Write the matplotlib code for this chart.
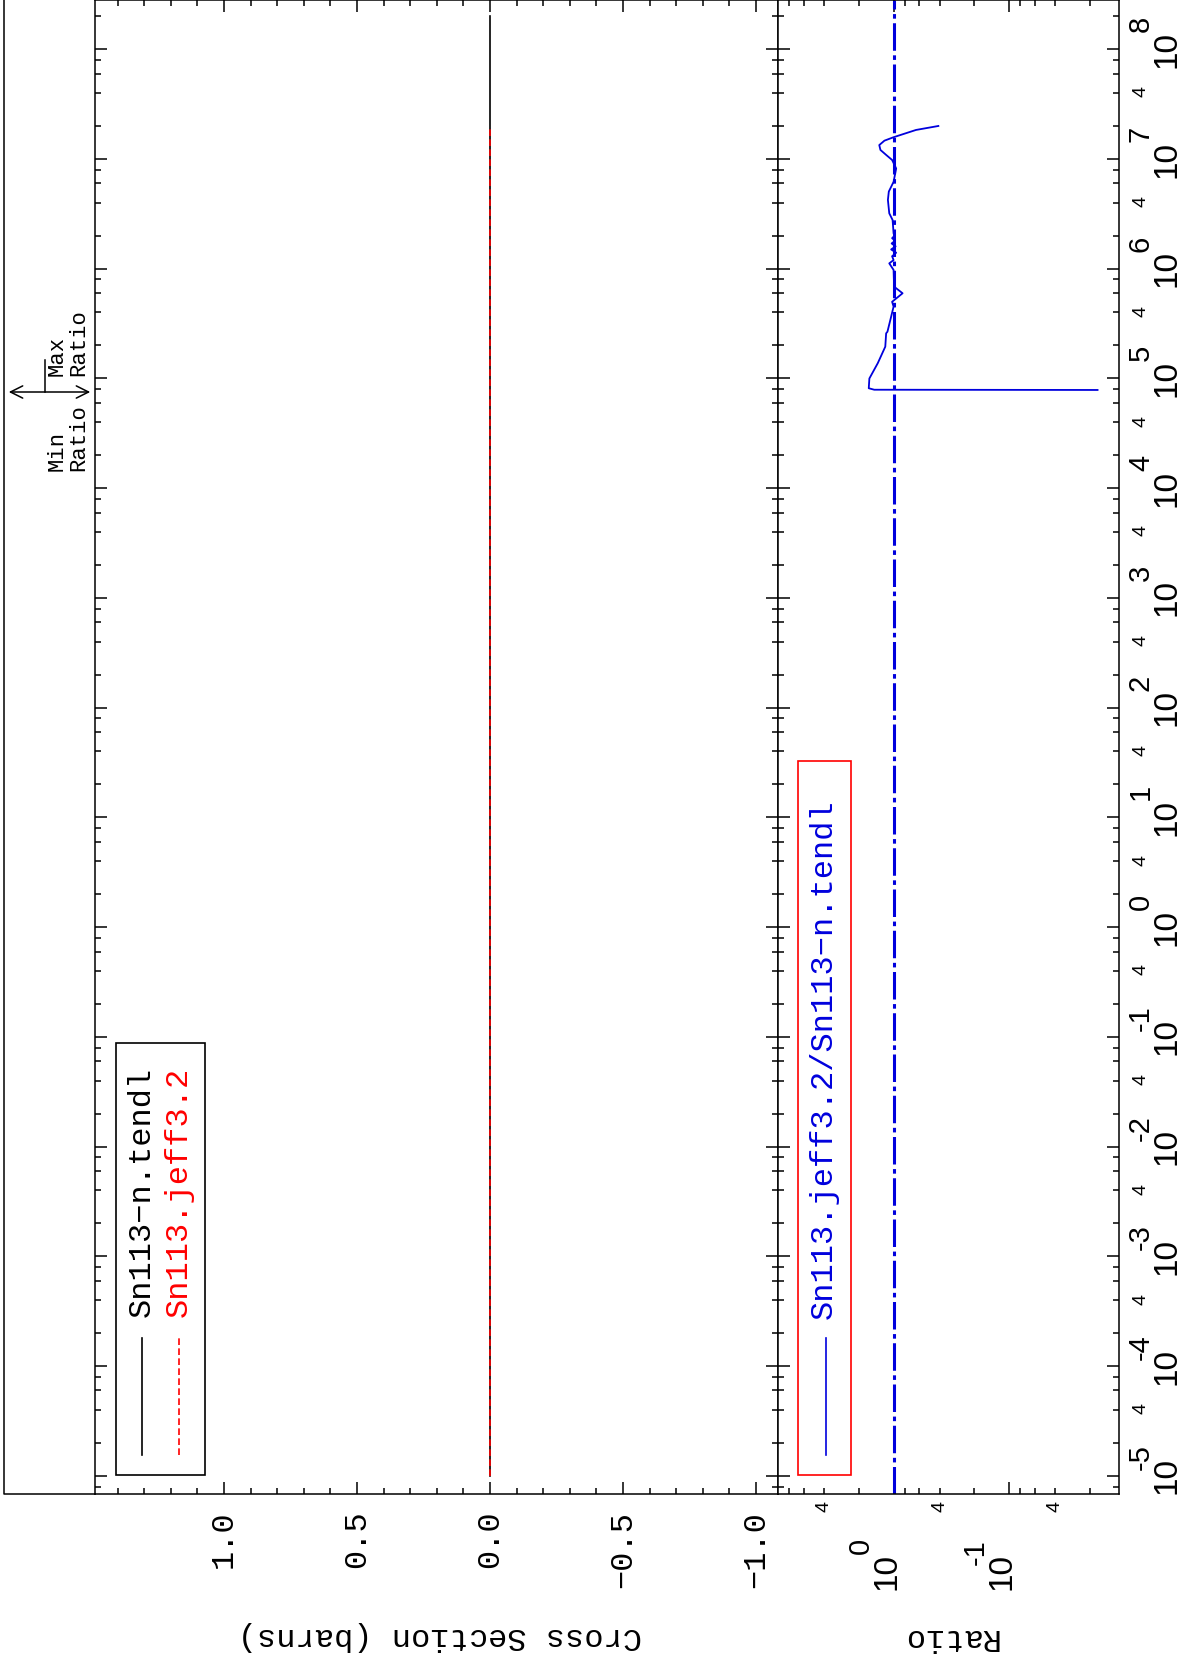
import numpy as np
import matplotlib
matplotlib.use('Agg')
import matplotlib.pyplot as plt
from matplotlib.ticker import FixedLocator, FuncFormatter, LogLocator, MultipleLocator, NullFormatter
from matplotlib.lines import Line2D
from matplotlib.patches import Rectangle, FancyArrowPatch
from matplotlib.transforms import offset_copy

# cross sections (barns) - both evaluations sit on zero
tendl_energy = [1e-5, 2e8]
tendl_xs = [0.0, 0.0]
jeff_energy = [1e-5, 2e7]
jeff_xs = [0.0, 0.0]

# ratio jeff3.2 / tendl
ratio_energy = [2.0e7, 1.84e7, 1.58e7, 1.47e7, 1.34e7, 1.21e7, 1.09e7, 9.8e6, 8.2e6,
                6.2e6, 5.05e6, 4.24e6, 3.2e6, 2.78e6, 2.1e6, 2.0e6, 1.9e6, 1.8e6,
                1.7e6, 1.6e6, 1.5e6, 1.4e6, 1.3e6, 1.2e6, 1.12e6, 9.75e5, 6.87e5,
                5.98e5, 5.0e5, 4.52e5, 3.66e5, 2.67e5, 2.58e5, 1.95e5, 1.38e5,
                1.0e5, 8.15e4, 7.9e4, 7.86e4]
ratio_value = [0.41, 0.64, 1.0, 1.20, 1.33, 1.30, 1.16, 1.03, 0.95,
               1.0, 1.10, 1.12, 1.09, 1.02, 1.0, 0.98, 1.03, 0.97,
               1.04, 0.96, 1.05, 0.95, 1.03, 1.0, 1.09, 1.0, 0.99,
               0.836, 1.03, 1.0, 1.05, 1.13, 1.16, 1.18, 1.37,
               1.62, 1.64, 1.47, 0.0172]

xs_ticks = [1.0, 0.5, 0.0, -0.5, -1.0]
ratio_decades = [1.0, 0.1]
decades = list(range(-5, 9))

W, H = 1182, 1661
MONO = ['Liberation Mono', 'DejaVu Sans Mono']
SANS = ['Liberation Sans', 'DejaVu Sans']
BLUE = '#0000dd'


def fx(x):
    return x / W


def fy(y):
    return 1 - y / H


def four_only(v, pos):
    m = v / 10 ** np.floor(np.log10(v) + 1e-9)
    return '4' if abs(m - 4) < 0.01 else ''


def power_label(ax, trans, xv, yv, n, base_off, exp_off):
    # Hershey-style 10^n: exponent as big as the base, set as two texts
    ax.text(xv, yv, '10', transform=offset_copy(trans, fig=fig, x=base_off[0], y=base_off[1], units='dots'),
            rotation=90, ha='center', va='center', fontsize=24, family=SANS)
    ax.text(xv, yv, str(n), transform=offset_copy(trans, fig=fig, x=exp_off[0],
                                                  y=exp_off[1] - (11 if n < 0 else 0), units='dots'),
            rotation=90, ha='center', va='bottom', fontsize=21, family=SANS)


fig = plt.figure(figsize=(W / 100, H / 100), dpi=100)
ax1 = fig.add_axes([fx(95), fy(1494), fx(778) - fx(95), 1494 / H])
ax2 = fig.add_axes([fx(778), fy(1494), fx(1119) - fx(778), 1494 / H])

e_lo, e_hi = 10 ** -5.165, 10 ** 8.449

# cross section panel (energy runs up the page)
ax1.plot(tendl_xs, tendl_energy, color='black', lw=1.2)
ax1.plot(jeff_xs, jeff_energy, color='red', lw=1.2, dashes=(4, 2))
ax1.set_yscale('log')
ax1.set_ylim(e_lo, e_hi)
ax1.set_xlim(1.485, -1.083)
ax1.xaxis.set_major_locator(FixedLocator(xs_ticks))
ax1.xaxis.set_minor_locator(MultipleLocator(0.1))
ax1.xaxis.set_major_formatter(FuncFormatter(lambda v, p: ('%.1f' % v).replace('-', '\u2212')))
ax1.tick_params(axis='x', which='major', labelsize=23, labelrotation=90, pad=12,
                labelfontfamily=MONO)
ax1.tick_params(axis='y', which='both', labelleft=False, labelright=False)

# ratio panel
ax2.axvline(1.0, color=BLUE, lw=2.2, dashes=(9, 1.5, 1.5, 1.5))
ax2.plot(ratio_value, ratio_energy, color=BLUE, lw=1.3)
ax2.set_xscale('log')
ax2.set_xlim(10 ** 1.0, 10 ** -1.95)
ax2.set_yscale('log')
ax2.set_ylim(e_lo, e_hi)
ax2.xaxis.set_major_locator(FixedLocator(ratio_decades))
ax2.xaxis.set_minor_locator(FixedLocator([0.02, 0.04, 0.06, 0.08, 0.2, 0.4, 0.6, 0.8, 2, 4, 6, 8]))
ax2.xaxis.set_major_formatter(NullFormatter())
ax2.xaxis.set_minor_formatter(FuncFormatter(four_only))
ax2.tick_params(axis='x', which='minor', labelsize=14, labelrotation=90, pad=5,
                labelfontfamily=SANS)
ax2.tick_params(axis='y', which='both', labelleft=False, labelright=True, labelrotation=90)
ax2.tick_params(axis='y', which='minor', labelsize=14, pad=10, labelfontfamily=SANS)

for ax in (ax1, ax2):
    ax.yaxis.set_major_locator(FixedLocator([10.0 ** n for n in decades]))
    ax.yaxis.set_minor_locator(LogLocator(base=10, subs=(2, 4, 6, 8), numticks=100))
    ax.tick_params(which='both', direction='in', top=True, bottom=True, left=True,
                   right=True, width=1.1)
    ax.tick_params(which='major', length=8.5)
    ax.tick_params(which='minor', length=4.3)
    for s in ax.spines.values():
        s.set_linewidth(1.1)
ax2.yaxis.set_major_formatter(NullFormatter())
ax2.yaxis.set_minor_formatter(FuncFormatter(four_only))

# decade labels: energy along the right edge, ratio under the panel
for n in decades:
    power_label(ax2, ax2.get_yaxis_transform(), 1, 10.0 ** n, n, (48, 0), (22, 17))
for r in ratio_decades:
    n = int(round(np.log10(r)))
    power_label(ax2, ax2.get_xaxis_transform(), r, 0, n, (-7, -77), (-33, -60))

# axis titles (page is turned, so they read upside down)
fig.text(fx(440), fy(1636), 'Cross Section (barns)', rotation=180, ha='center', va='center',
         fontsize=23, family=MONO)
fig.text(fx(949), fy(1637), 'Ratio', rotation=180, ha='center', va='center',
         fontsize=23, family=MONO)

# legend of the cross section panel
fig.add_artist(Rectangle((fx(116), fy(1475)), fx(205) - fx(116), (1475 - 1043) / H,
                         transform=fig.transFigure, fill=False, ec='black', lw=1.2))
fig.add_artist(Line2D([fx(142), fx(142)], [fy(1455), fy(1338)], transform=fig.transFigure,
                      color='black', lw=1.2))
fig.add_artist(Line2D([fx(179), fx(179)], [fy(1455), fy(1338)], transform=fig.transFigure,
                      color='red', lw=1.2, dashes=(4, 2)))
fig.text(fx(142), fy(1317), 'Sn113\u2212n.tendl', rotation=90, ha='center', va='bottom',
         fontsize=23, family=MONO, color='black')
fig.text(fx(179), fy(1317), 'Sn113.jeff3.2', rotation=90, ha='center', va='bottom',
         fontsize=23, family=MONO, color='red')

# legend of the ratio panel
fig.add_artist(Rectangle((fx(798), fy(1475)), fx(851) - fx(798), (1475 - 761) / H,
                         transform=fig.transFigure, fill=False, ec='red', lw=1.2))
fig.add_artist(Line2D([fx(826), fx(826)], [fy(1455), fy(1338)], transform=fig.transFigure,
                      color=BLUE, lw=1.2))
fig.text(fx(824), fy(1319), 'Sn113.jeff3.2/Sn113\u2212n.tendl', rotation=90, ha='center',
         va='bottom', fontsize=23, family=MONO, color=BLUE)

# outer frame piece and min/max ratio marker above the plot
fig.add_artist(Line2D([fx(4), fx(4), fx(95)], [fy(0), fy(1494), fy(1494)],
                      transform=fig.transFigure, color='black', lw=1.1))
fig.add_artist(FancyArrowPatch((fx(6), fy(392)), (fx(93), fy(392)), transform=fig.transFigure,
                               arrowstyle='<->', mutation_scale=22, color='black', lw=1.1))
fig.add_artist(Line2D([fx(45), fx(45)], [fy(392), fy(360)], transform=fig.transFigure,
                      color='black', lw=1.1))
fig.text(fx(68), fy(376), 'Max\nRatio', rotation=90, ha='center', va='bottom',
         multialignment='left', fontsize=16, family=MONO, linespacing=1.0)
fig.text(fx(68), fy(471), 'Min\nRatio', rotation=90, ha='center', va='bottom',
         multialignment='left', fontsize=16, family=MONO, linespacing=1.0)

fig.savefig('out.png', dpi=100)
